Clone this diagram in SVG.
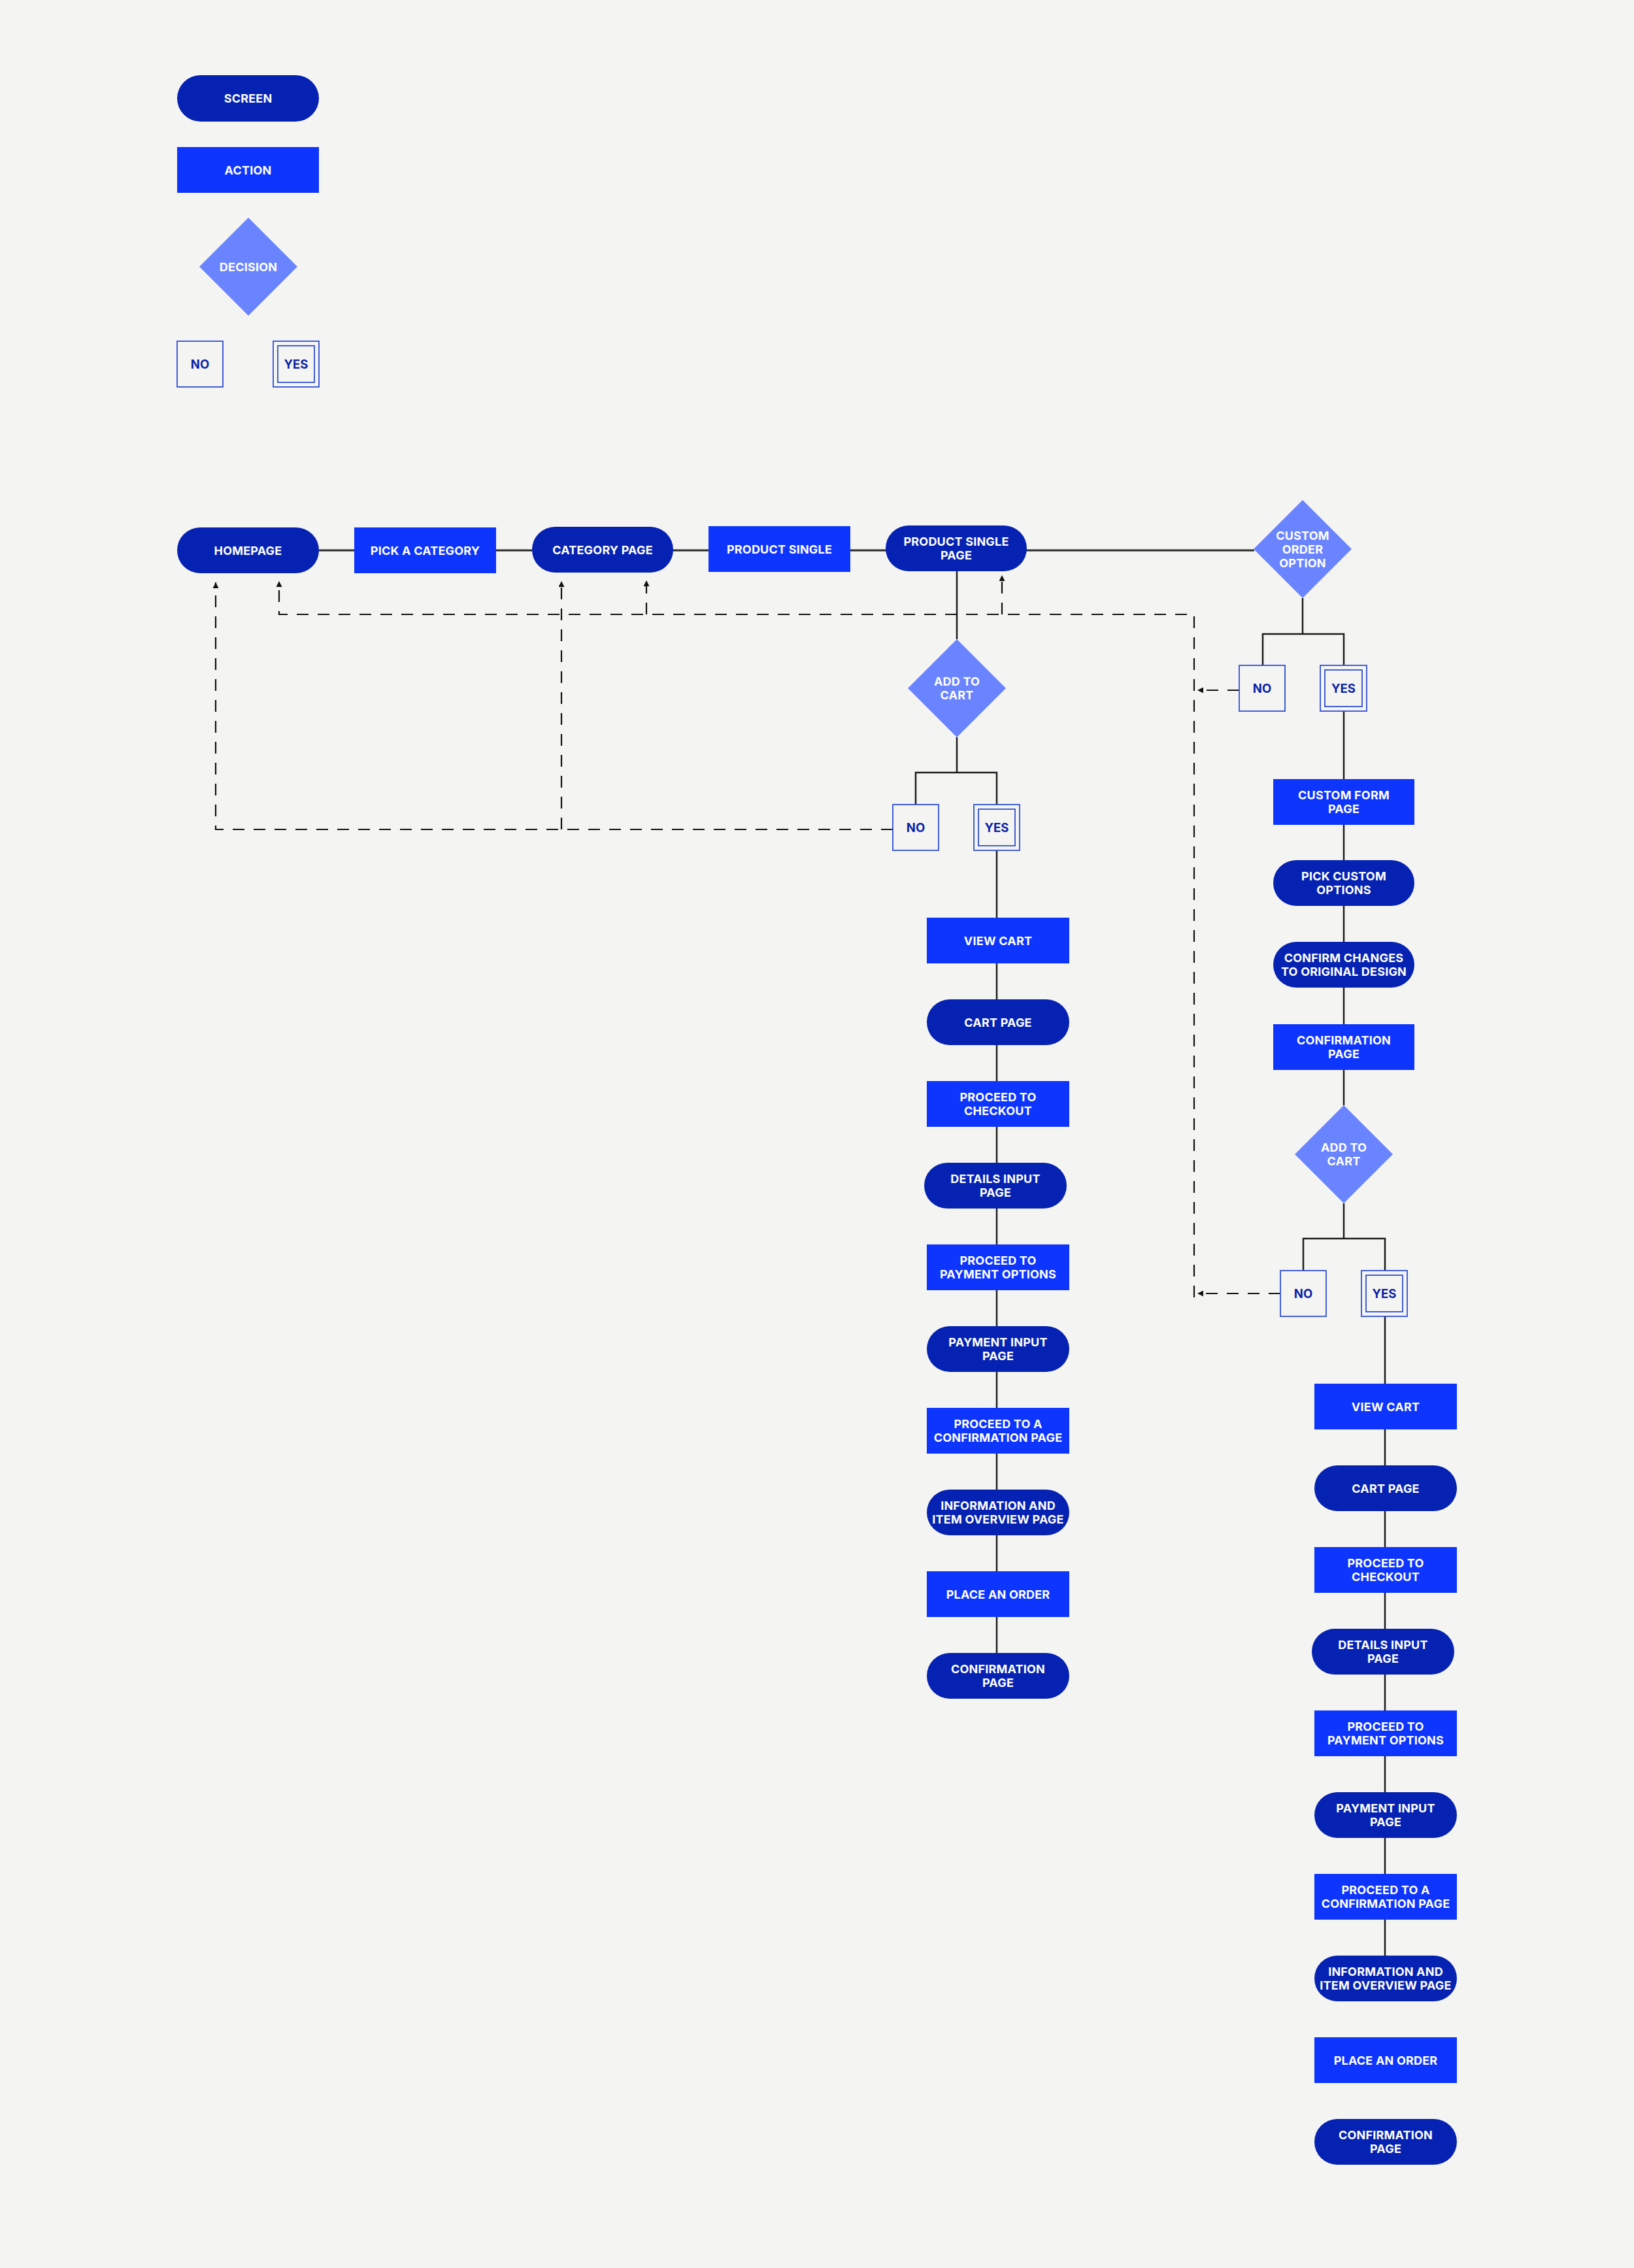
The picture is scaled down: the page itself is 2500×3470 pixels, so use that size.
<svg xmlns="http://www.w3.org/2000/svg" width="2500" height="3470" viewBox="0 0 2500 3470">
<defs>
<style>
.bg{fill:#f4f4f2}
.screen{fill:#0522b3}
.action{fill:#0d35fd}
.decision{fill:#6a84ff}
.box{fill:#f4f4f2;stroke:#2f4fd6;stroke-width:1.8}
.lbl{font-family:Inter,"Liberation Sans",sans-serif;font-weight:700;font-size:18px;letter-spacing:0.2px;fill:#ffffff;text-anchor:middle}
.chl{font-family:Inter,"Liberation Sans",sans-serif;font-weight:700;font-size:18.5px;fill:#0a22a8;text-anchor:middle}
.solid{fill:none;stroke:#1c1c1c;stroke-width:2.5}
.main{fill:none;stroke:#2a2a2a;stroke-width:3.2}
.dash{fill:none;stroke:#111111;stroke-width:2.2;stroke-dasharray:18 14}
</style>
<marker id="arr" viewBox="0 0 10 10" refX="10" refY="5" markerWidth="10" markerHeight="9" markerUnits="userSpaceOnUse" orient="auto">
<path d="M0,0 L10,5 L0,10 z" fill="#111111"/>
</marker>
</defs>
<rect class="bg" x="0" y="0" width="2500" height="3470"/>

<g id="connectors">
<path class="main" d="M488,842 H1919"/>
<path class="solid" d="M1464,874 V978"/>
<path class="solid" d="M1464,1128 V1182 M1401,1231 V1182 H1525 V1231"/>
<path class="solid" d="M1525,1301 V2529"/>
<path class="solid" d="M1993,915 V970 M1932,1018 V970 H2056 V1018"/>
<path class="solid" d="M2056,1088 V1691"/>
<path class="solid" d="M2056,1841 V1895 M1994,1944 V1895 H2119 V1944"/>
<path class="solid" d="M2119,2014 V2992"/>
<path class="dash" d="M1366,1269 H330 V891" marker-end="url(#arr)"/>
<path class="dash" d="M859,1269 V889" marker-end="url(#arr)"/>
<path class="dash" d="M1827,1985 V940 H427 V889" marker-end="url(#arr)"/>
<path class="dash" d="M989,940 V888" marker-end="url(#arr)"/>
<path class="dash" d="M1533,940 V880" marker-end="url(#arr)"/>
<path class="dash" d="M1896,1056 H1832" marker-end="url(#arr)"/>
<path class="dash" d="M1959,1979 H1832" marker-end="url(#arr)"/>
</g>

<g id="legend-screen"><rect class="screen" x="271" y="115" width="217" height="71" rx="35.5"/><text class="lbl" x="379.5" y="157">SCREEN</text></g>
<g id="legend-action"><rect class="action" x="271" y="225" width="217" height="70"/><text class="lbl" x="379.5" y="266.5">ACTION</text></g>
<g id="legend-decision"><polygon class="decision" points="380,333 455,408 380,483 305,408"/><text class="lbl" x="380" y="414.5">DECISION</text></g>
<g id="legend-no"><rect class="box" x="271" y="522" width="70" height="70"/><text class="chl" x="306" y="563.5">NO</text></g>
<g id="legend-yes"><rect class="box" x="418" y="522" width="70" height="70"/><rect class="box" x="425" y="529" width="56" height="56"/><text class="chl" x="453" y="563.5">YES</text></g>

<g id="homepage"><rect class="screen" x="271" y="807" width="217" height="70" rx="35"/><text class="lbl" x="379.5" y="848.5">HOMEPAGE</text></g>
<g id="pick-a-category"><rect class="action" x="542" y="807" width="217" height="70"/><text class="lbl" x="650.5" y="848.5">PICK A CATEGORY</text></g>
<g id="category-page"><rect class="screen" x="814" y="806" width="216" height="70" rx="35"/><text class="lbl" x="922" y="847.5">CATEGORY PAGE</text></g>
<g id="product-single"><rect class="action" x="1084" y="805" width="217" height="70"/><text class="lbl" x="1192.5" y="846.5">PRODUCT SINGLE</text></g>
<g id="product-single-page"><rect class="screen" x="1355" y="804" width="216" height="70" rx="35"/><text class="lbl" x="1463" y="834.5">PRODUCT SINGLE</text><text class="lbl" x="1463" y="855.5">PAGE</text></g>
<g id="custom-order-option"><polygon class="decision" points="1993,765 2068,840 1993,915 1918,840"/><text class="lbl" x="1993" y="826">CUSTOM</text><text class="lbl" x="1993" y="847">ORDER</text><text class="lbl" x="1993" y="868">OPTION</text></g>

<g id="add-to-cart-1"><polygon class="decision" points="1464,978 1539,1053 1464,1128 1389,1053"/><text class="lbl" x="1464" y="1048.5">ADD TO</text><text class="lbl" x="1464" y="1069.5">CART</text></g>
<g id="no-1"><rect class="box" x="1366" y="1231" width="70" height="70"/><text class="chl" x="1401" y="1272.5">NO</text></g>
<g id="yes-1"><rect class="box" x="1490" y="1231" width="70" height="70"/><rect class="box" x="1497" y="1238" width="56" height="56"/><text class="chl" x="1525" y="1272.5">YES</text></g>

<g id="view-cart-1"><rect class="action" x="1418" y="1404" width="218" height="70"/><text class="lbl" x="1527" y="1445.5">VIEW CART</text></g>
<g id="cart-page-1"><rect class="screen" x="1418" y="1529" width="218" height="70" rx="35"/><text class="lbl" x="1527" y="1570.5">CART PAGE</text></g>
<g id="proceed-checkout-1"><rect class="action" x="1418" y="1654" width="218" height="70"/><text class="lbl" x="1527" y="1684.5">PROCEED TO</text><text class="lbl" x="1527" y="1705.5">CHECKOUT</text></g>
<g id="details-input-1"><rect class="screen" x="1414" y="1779" width="218" height="70" rx="35"/><text class="lbl" x="1523" y="1809.5">DETAILS INPUT</text><text class="lbl" x="1523" y="1830.5">PAGE</text></g>
<g id="proceed-payment-1"><rect class="action" x="1418" y="1904" width="218" height="70"/><text class="lbl" x="1527" y="1934.5">PROCEED TO</text><text class="lbl" x="1527" y="1955.5">PAYMENT OPTIONS</text></g>
<g id="payment-input-1"><rect class="screen" x="1418" y="2029" width="218" height="70" rx="35"/><text class="lbl" x="1527" y="2059.5">PAYMENT INPUT</text><text class="lbl" x="1527" y="2080.5">PAGE</text></g>
<g id="proceed-confirmation-1"><rect class="action" x="1418" y="2154" width="218" height="70"/><text class="lbl" x="1527" y="2184.5">PROCEED TO A</text><text class="lbl" x="1527" y="2205.5">CONFIRMATION PAGE</text></g>
<g id="info-overview-1"><rect class="screen" x="1418" y="2279" width="218" height="70" rx="35"/><text class="lbl" x="1527" y="2309.5">INFORMATION AND</text><text class="lbl" x="1527" y="2330.5">ITEM OVERVIEW PAGE</text></g>
<g id="place-order-1"><rect class="action" x="1418" y="2404" width="218" height="70"/><text class="lbl" x="1527" y="2445.5">PLACE AN ORDER</text></g>
<g id="confirmation-page-1"><rect class="screen" x="1418" y="2529" width="218" height="70" rx="35"/><text class="lbl" x="1527" y="2559.5">CONFIRMATION</text><text class="lbl" x="1527" y="2580.5">PAGE</text></g>

<g id="no-2"><rect class="box" x="1896" y="1018" width="70" height="70"/><text class="chl" x="1931" y="1059.5">NO</text></g>
<g id="yes-2"><rect class="box" x="2020" y="1018" width="71" height="70"/><rect class="box" x="2027" y="1025" width="57" height="56"/><text class="chl" x="2055.5" y="1059.5">YES</text></g>
<g id="custom-form-page"><rect class="action" x="1948" y="1192" width="216" height="70"/><text class="lbl" x="2056" y="1222.5">CUSTOM FORM</text><text class="lbl" x="2056" y="1243.5">PAGE</text></g>
<g id="pick-custom-options"><rect class="screen" x="1948" y="1316" width="216" height="70" rx="35"/><text class="lbl" x="2056" y="1346.5">PICK CUSTOM</text><text class="lbl" x="2056" y="1367.5">OPTIONS</text></g>
<g id="confirm-changes"><rect class="screen" x="1948" y="1441" width="216" height="70" rx="35"/><text class="lbl" x="2056" y="1471.5">CONFIRM CHANGES</text><text class="lbl" x="2056" y="1492.5">TO ORIGINAL DESIGN</text></g>
<g id="confirmation-page-custom"><rect class="action" x="1948" y="1567" width="216" height="70"/><text class="lbl" x="2056" y="1597.5">CONFIRMATION</text><text class="lbl" x="2056" y="1618.5">PAGE</text></g>
<g id="add-to-cart-2"><polygon class="decision" points="2056,1691 2131,1766 2056,1841 1981,1766"/><text class="lbl" x="2056" y="1761.5">ADD TO</text><text class="lbl" x="2056" y="1782.5">CART</text></g>
<g id="no-3"><rect class="box" x="1959" y="1944" width="70" height="70"/><text class="chl" x="1994" y="1985.5">NO</text></g>
<g id="yes-3"><rect class="box" x="2083" y="1944" width="70" height="70"/><rect class="box" x="2090" y="1951" width="56" height="56"/><text class="chl" x="2118" y="1985.5">YES</text></g>

<g id="view-cart-2"><rect class="action" x="2011" y="2117" width="218" height="70"/><text class="lbl" x="2120" y="2158.5">VIEW CART</text></g>
<g id="cart-page-2"><rect class="screen" x="2011" y="2242" width="218" height="70" rx="35"/><text class="lbl" x="2120" y="2283.5">CART PAGE</text></g>
<g id="proceed-checkout-2"><rect class="action" x="2011" y="2367" width="218" height="70"/><text class="lbl" x="2120" y="2397.5">PROCEED TO</text><text class="lbl" x="2120" y="2418.5">CHECKOUT</text></g>
<g id="details-input-2"><rect class="screen" x="2007" y="2492" width="218" height="70" rx="35"/><text class="lbl" x="2116" y="2522.5">DETAILS INPUT</text><text class="lbl" x="2116" y="2543.5">PAGE</text></g>
<g id="proceed-payment-2"><rect class="action" x="2011" y="2617" width="218" height="70"/><text class="lbl" x="2120" y="2647.5">PROCEED TO</text><text class="lbl" x="2120" y="2668.5">PAYMENT OPTIONS</text></g>
<g id="payment-input-2"><rect class="screen" x="2011" y="2742" width="218" height="70" rx="35"/><text class="lbl" x="2120" y="2772.5">PAYMENT INPUT</text><text class="lbl" x="2120" y="2793.5">PAGE</text></g>
<g id="proceed-confirmation-2"><rect class="action" x="2011" y="2867" width="218" height="70"/><text class="lbl" x="2120" y="2897.5">PROCEED TO A</text><text class="lbl" x="2120" y="2918.5">CONFIRMATION PAGE</text></g>
<g id="info-overview-2"><rect class="screen" x="2011" y="2992" width="218" height="70" rx="35"/><text class="lbl" x="2120" y="3022.5">INFORMATION AND</text><text class="lbl" x="2120" y="3043.5">ITEM OVERVIEW PAGE</text></g>
<g id="place-order-2"><rect class="action" x="2011" y="3117" width="218" height="70"/><text class="lbl" x="2120" y="3158.5">PLACE AN ORDER</text></g>
<g id="confirmation-page-2"><rect class="screen" x="2011" y="3242" width="218" height="70" rx="35"/><text class="lbl" x="2120" y="3272.5">CONFIRMATION</text><text class="lbl" x="2120" y="3293.5">PAGE</text></g>
</svg>
